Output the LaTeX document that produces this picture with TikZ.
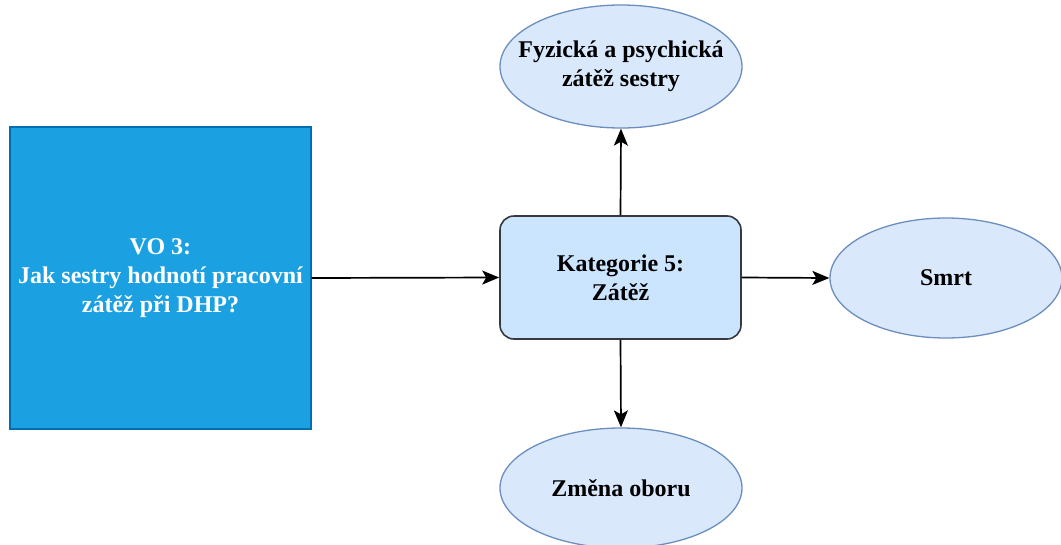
\documentclass[tikz,border=0pt]{standalone}
\usepackage{fontspec}
\setmainfont{Liberation Serif}
\usetikzlibrary{shapes.geometric,arrows.meta}
\definecolor{bluefill}{HTML}{1BA1E2}
\definecolor{bluestroke}{HTML}{006EAF}
\definecolor{catfill}{HTML}{CCE5FF}
\definecolor{catstroke}{HTML}{36393D}
\definecolor{ellfill}{HTML}{DAE8FC}
\definecolor{ellstroke}{HTML}{6C8EBF}
\tikzset{
  txt/.style={font=\fontsize{24}{29}\selectfont\bfseries, align=center},
  ell/.style={ellipse, draw=ellstroke, fill=ellfill, line width=1.3pt, inner xsep=-40pt, inner ysep=-15pt, txt},
  conn/.style={-{Stealth[length=17pt,width=14pt,inset=4pt]}, line width=1.7pt, black}
}
\begin{document}
\begin{tikzpicture}[x=1pt,y=-1pt]
\useasboundingbox (0,0) rectangle (1061,544);
\node[draw=bluestroke, fill=bluefill, line width=1.3pt, minimum width=301pt, minimum height=302pt, txt, text=white, inner sep=0pt] (vo) at (160.5,278) {VO 3:\\Jak sestry hodnotí pracovní\\zátěž při DHP?};
\node[draw=catstroke, fill=catfill, line width=1.6pt, rounded corners=14pt, minimum width=241pt, minimum height=123pt, txt, inner sep=0pt] (cat) at (620.5,277.5) {Kategorie 5:\\Zátěž};
\node[ell, minimum width=242pt, minimum height=123pt] (top) at (621,66.5) {Fyzická a psychická\\zátěž sestry};
\node[ell, minimum width=232pt, minimum height=120pt] (smrt) at (946,278) {Smrt};
\node[ell, minimum width=242pt, minimum height=120pt] (bot) at (621,488) {Změna oboru};
\draw[conn] (vo.east) -- (cat.west);
\draw[conn] (cat.north) -- (top.south);
\draw[conn] (cat.east) -- (smrt.west);
\draw[conn] (cat.south) -- (bot.north);
\end{tikzpicture}
\end{document}
